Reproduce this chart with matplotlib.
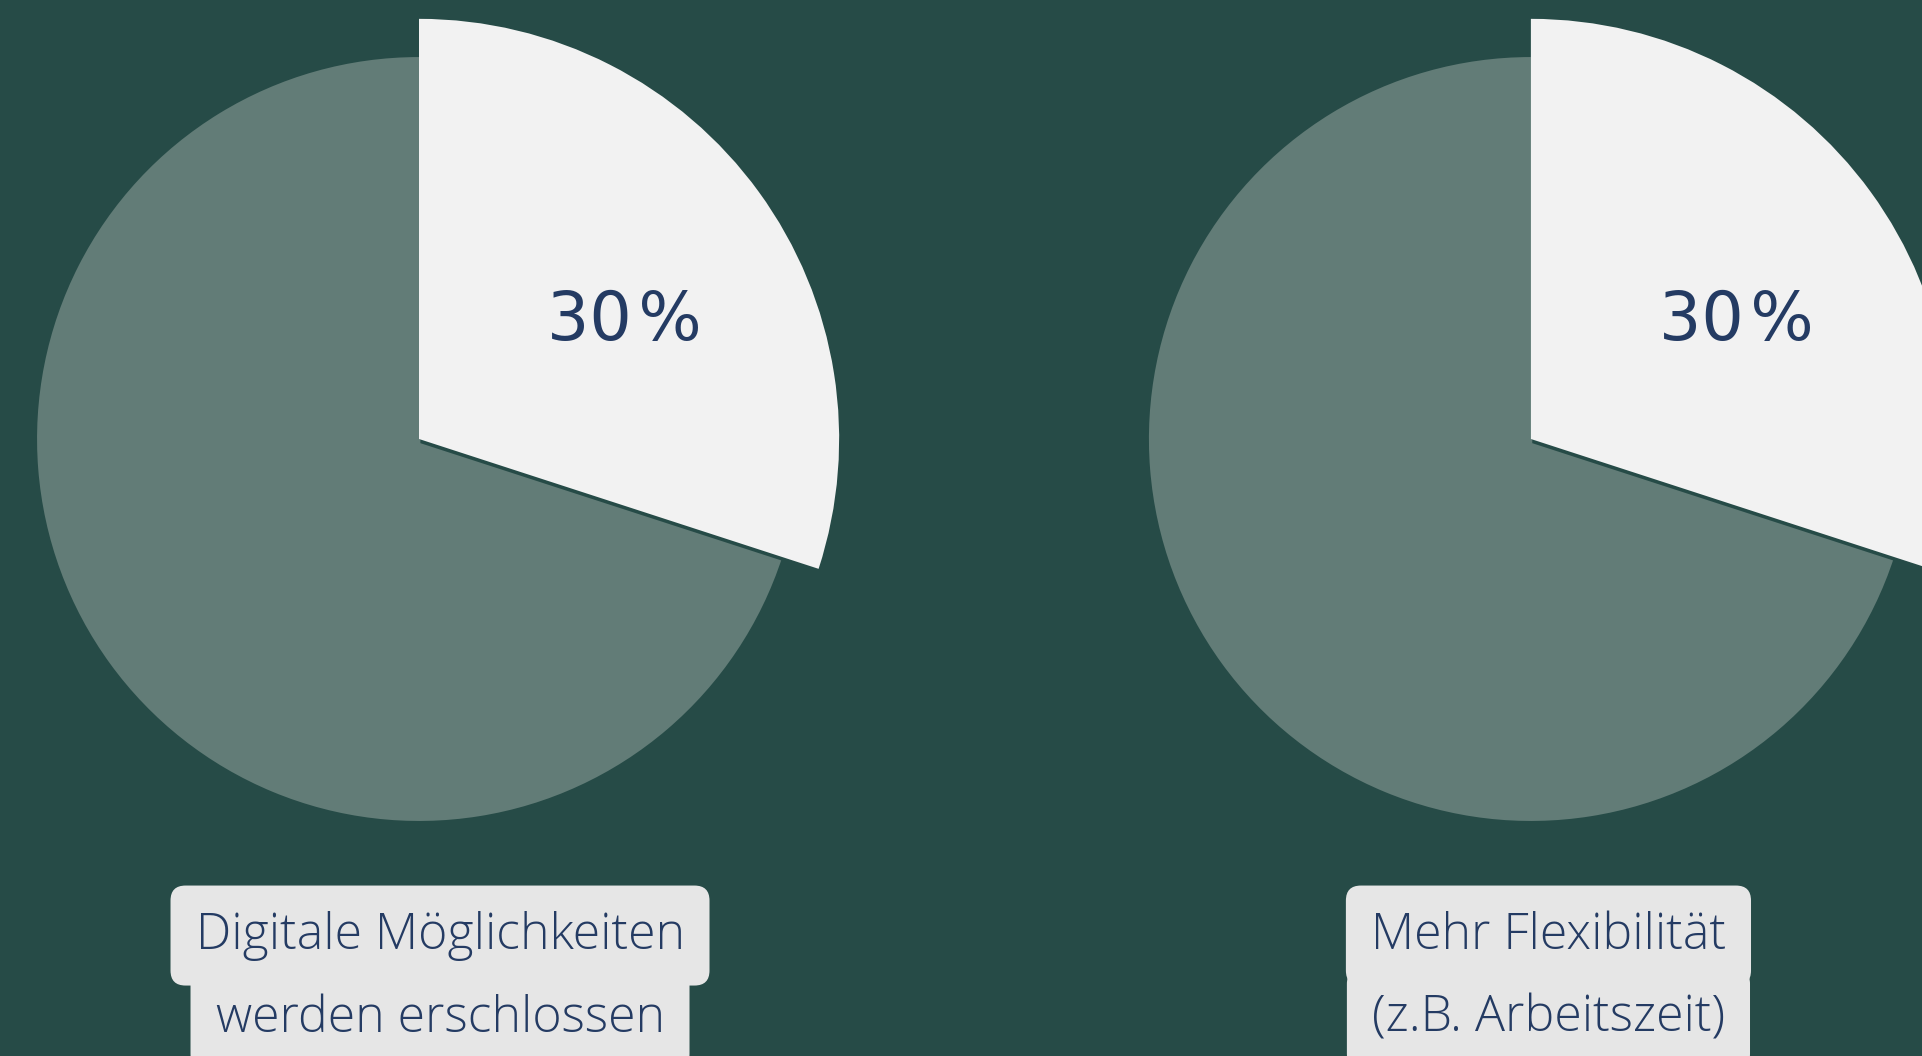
import matplotlib
matplotlib.use("Agg")
import matplotlib.pyplot as plt
import matplotlib.patheffects as pe

# data
shares = [30, 70]
labels_left = ["Digitale Möglichkeiten", "werden erschlossen"]
labels_right = ["Mehr Flexibilität", "(z.B. Arbeitszeit)"]

bg = "#264b47"
slice_gray = "#627c77"
slice_white = "#f2f2f2"
navy = "#243b63"
box_gray = "#e6e6e6"

fig = plt.figure(figsize=(19.22, 10.56), dpi=100, facecolor=bg)

# one axes per pie, 1 data unit = pie radius (382 px)
ax_l = fig.add_axes([0, 0, 961 / 1922, 1])
ax_r = fig.add_axes([961 / 1922, 0, 961 / 1922, 1])


def draw_pie(ax, xlim, label_lines, label_x):
    ax.set_facecolor(bg)
    wedges, _, pcts = ax.pie(shares, startangle=90, counterclock=False,
                             colors=[slice_white, slice_gray],
                             autopct='%d%%', pctdistance=0.63,
                             wedgeprops=dict(linewidth=0),
                             textprops=dict(color=navy, fontsize=48,
                                            family='DejaVu Sans'))
    wedges[0].set_radius(1.1)
    wedges[0].set_zorder(3)
    wedges[0].set_path_effects([
        pe.SimplePatchShadow(offset=(1, -3), shadow_rgbFace=bg, alpha=1),
        pe.Normal()])
    pcts[0].set_text(pcts[0].get_text().replace('%', '\u200a%'))
    pcts[0].set_position((0.537, 0.31))
    pcts[0].set_zorder(4)
    pcts[1].set_visible(False)
    ax.set_xlim(*xlim)
    ax.set_ylim(-1.615, 1.149)
    ax.set_aspect('equal', adjustable='box')
    ax.axis('off')
    ys = [-1.30, -1.518]
    for i, (line, y) in enumerate(zip(label_lines, ys)):
        ax.text(label_x, y, line, ha='center', va='center', color=navy,
                fontsize=36, family=['Open Sans', 'DejaVu Sans'], fontweight='light',
                zorder=6 - i,
                bbox=dict(boxstyle='round,pad=0.5,rounding_size=0.3',
                          facecolor=box_gray, edgecolor='none'))


draw_pie(ax_l, (-1.097, 1.419), labels_left, 0.055)
draw_pie(ax_r, (-1.492, 1.024), labels_right, 0.046)

fig.savefig("out.png", dpi=100, facecolor=bg)
